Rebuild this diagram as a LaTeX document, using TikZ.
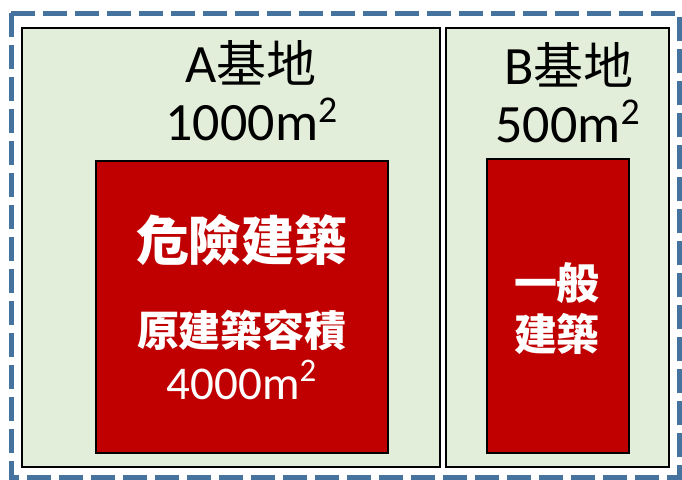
\documentclass[tikz,border=0pt]{standalone}
\usepackage{fontspec}
\setmainfont{Carlito}
\newfontfamily\cjk{Noto Sans CJK TC}
\definecolor{lotgreen}{RGB}{226,238,217}
\definecolor{bldgred}{RGB}{192,0,0}
\definecolor{borderblue}{RGB}{70,114,160}
\newcommand{\lotname}[1]{{\cjk\fontsize{25}{30}\selectfont #1}}
\begin{document}
\begin{tikzpicture}[x=0.5pt, y=-0.5pt,
    lot/.style={draw=black, line width=1pt, fill=lotgreen},
    bldg/.style={draw=black, line width=1pt, fill=bldgred},
    frame/.style={draw=borderblue, line width=2.5pt, dash pattern=on 12pt off 4pt},
    title/.style={inner sep=0pt, text=black, font=\fontsize{27}{30}\selectfont},
    label/.style={inner sep=0pt, text=white}
]
    \useasboundingbox (0,0) rectangle (682,479);

    % outer dashed frame
    \draw[frame] (11,13) rectangle (679,477);

    % lots
    \draw[lot] (22,28) rectangle (440,467);
    \draw[lot] (446,28) rectangle (669,467);

    % buildings
    \draw[bldg] (96,161) rectangle (388,453);
    \draw[bldg] (487,159) rectangle (629,453);

    % lot titles
    \node[title] (nameA) at (251,63) {A\lotname{基地}};
    \node[title] (areaA) at (252,119) {1000m\textsuperscript{2}};
    \node[title] (nameB) at (569,65) {B\lotname{基地}};
    \node[title] (areaB) at (568,121) {500m\textsuperscript{2}};

    % building labels
    \node[label, font=\fontsize{26.5}{30}\selectfont\cjk\bfseries] (dangerA) at (242,240) {危險建築};
    \node[label, font=\fontsize{21}{24}\selectfont\cjk\bfseries] (floorA) at (242,330) {原建築容積};
    \node[label, font=\fontsize{23.5}{26}\selectfont] (floorAreaA) at (242,380) {4000m\textsuperscript{2}};
    \node[label, font=\fontsize{21.5}{24}\selectfont\cjk\bfseries] (normalB) at (557,283) {一般};
    \node[label, font=\fontsize{21.5}{24}\selectfont\cjk\bfseries] (normalB2) at (557,334) {建築};

\end{tikzpicture}
\end{document}
